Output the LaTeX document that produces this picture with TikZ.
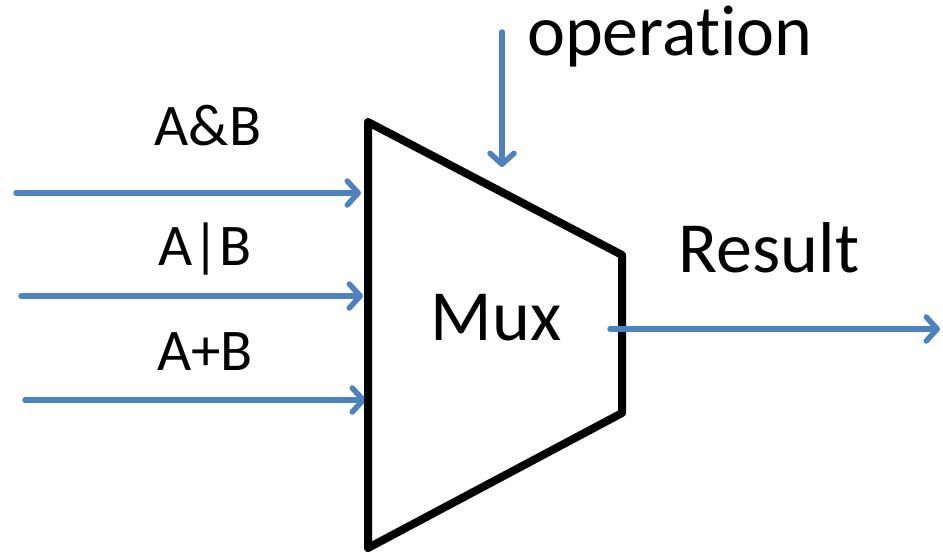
\documentclass[tikz,border=0pt]{standalone}
\usepackage{fontspec}
\setmainfont{Carlito}[Ligatures=CommonOff]
\usetikzlibrary{arrows.meta}
\definecolor{wireblue}{RGB}{79,129,189}
\begin{document}
\begin{tikzpicture}[x=1pt,y=-1pt]

		\tikzstyle{signal}=[draw=wireblue,line width=5.5pt,line cap=round,
			-{Straight Barb[length=11pt,width=24pt,line cap=round,line join=round]}]
		\tikzstyle{inlabel}=[anchor=base,inner sep=0pt,font=\fontsize{59}{70}\selectfont]
		\tikzstyle{biglabel}=[anchor=base,inner sep=0pt,font=\fontsize{72}{84}\selectfont]

		\useasboundingbox (0,0) rectangle (943,555);

		% corners of the mux
		\coordinate (muxtl) at (368,122);
		\coordinate (muxtr) at (622,255);
		\coordinate (muxbr) at (622,413);
		\coordinate (muxbl) at (368,548);

		% free ends of the wires
		\coordinate (andsrc) at (16,193);	\coordinate (andin) at (361,193);
		\coordinate (orsrc) at (21,296);	\coordinate (orin) at (363,296);
		\coordinate (addsrc) at (25,400);	\coordinate (addin) at (366,400);
		\coordinate (opsrc) at (502,32);	\coordinate (opin) at (502,167);
		\coordinate (resout) at (610,329);	\coordinate (resend) at (940,329);

		\node[inlabel]	(andlbl)	at (208,145)	{A\&B};
		\node[inlabel]	(orlbl)	at (205,265)	{A|B};
		\node[inlabel]	(addlbl)	at (205,370)	{A+B};
		\node[biglabel]	(mux)	at (496,340)	{Mux};
		\node[biglabel]	(reslbl)	at (769,272)	{Result};
		\node[biglabel]	(oplbl)	at (670,55)	{operation};

		\draw[signal] (andsrc) -- (andin);
		\draw[signal] (orsrc) -- (orin);
		\draw[signal] (addsrc) -- (addin);
		\draw[signal] (opsrc) -- (opin);

		\draw[line width=8pt,line join=round] (muxtl) -- (muxtr) -- (muxbr) -- (muxbl) -- cycle;

		\draw[signal] (resout) -- (resend);

	\end{tikzpicture}
\end{document}
